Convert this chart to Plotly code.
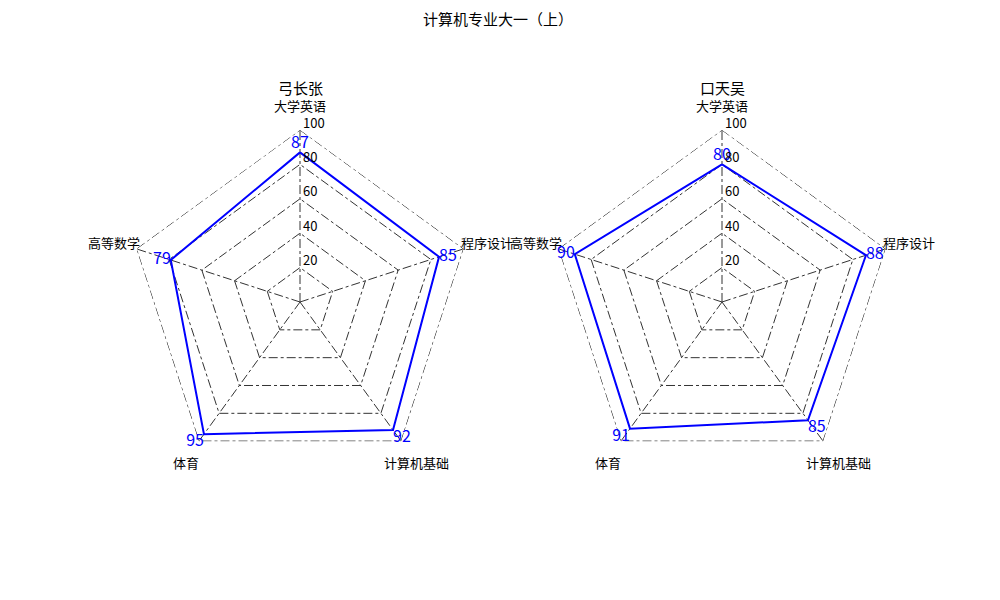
import plotly.graph_objects as go

title = "计算机专业大一（上）"
categories = ["大学英语", "程序设计", "计算机基础", "体育", "高等数学"]
names = ["弓长张", "口天吴"]
scores_zhang = [87, 85, 92, 95, 79]
scores_wu = [80, 88, 85, 91, 90]
radial_ticks = [20, 40, 60, 80, 100]

text_pos = ["top center", "middle right", "bottom right", "bottom left", "middle left"]

FONT = "Noto Sans CJK SC, DejaVu Sans, sans-serif"
W, H = 1000, 600
CENTERS = [(300, 302), (722, 302)]   # pixel centres of the two radar plots
RADIUS = 172                          # pixel radius at r = 100
# offsets (pixels) of the category labels from each radar centre
LABEL_OFF = [(0, -196), (187, -60), (116, 160), (-114, 160), (-186, -60)]


def px(x, y):
    return x / W, 1 - y / H


fig = go.Figure()
annotations = []
for i, (name, vals) in enumerate([(names[0], scores_zhang), (names[1], scores_wu)]):
    pid = "polar" if i == 0 else "polar2"
    # outer dash-dot ring at the top of the scale
    fig.add_trace(go.Scatterpolar(
        r=[radial_ticks[-1]] * (len(categories) + 1),
        theta=categories + categories[:1],
        mode="lines",
        cliponaxis=False,
        line=dict(color="#111111", width=1, dash="dashdot"),
        subplot=pid, showlegend=False, hoverinfo="skip",
    ))
    fig.add_trace(go.Scatterpolar(
        r=vals + vals[:1],
        theta=categories + categories[:1],
        mode="lines+text",
        cliponaxis=False,
        text=[str(v) for v in vals] + [""],
        textposition=text_pos + ["top center"],
        textfont=dict(color="#0000ff", size=16, family=FONT),
        line=dict(color="#0000ff", width=2),
        subplot=pid,
        showlegend=False,
        hoverinfo="skip",
    ))
    cx, cy = CENTERS[i]
    # subplot title
    x, y = px(cx, 87)
    annotations.append(dict(text=name, x=x, y=y, xref="paper", yref="paper", showarrow=False,
                            font=dict(size=15, family=FONT), xanchor="center", yanchor="middle"))
    # category labels
    for cat, (dx, dy) in zip(categories, LABEL_OFF):
        x, y = px(cx + dx, cy + dy)
        annotations.append(dict(text=cat, x=x, y=y, xref="paper", yref="paper", showarrow=False,
                                font=dict(size=13, family=FONT, color="#000000"),
                                xanchor="center", yanchor="middle"))
    # radial tick labels, just right of and above the vertical spoke
    for t in radial_ticks:
        x, y = px(cx + 1, cy - t / 100 * RADIUS - 8)
        annotations.append(dict(text=str(t), x=x, y=y, xref="paper", yref="paper", showarrow=False,
                                font=dict(size=13, family=FONT, color="#000000"),
                                xanchor="left", yanchor="middle"))

axis_common = dict(
    radialaxis=dict(
        range=[0, 100], tickvals=radial_ticks, showline=False, ticks="",
        showticklabels=False, angle=90,
        gridcolor="#333333", griddash="dashdot", gridwidth=0.8,
    ),
    angularaxis=dict(
        direction="clockwise", rotation=90, showline=False, ticks="",
        showticklabels=False,
        gridcolor="#333333", griddash="dashdot", gridwidth=0.8,
    ),
    gridshape="linear",
    bgcolor="white",
)

dom_y = [1 - (302 + RADIUS) / H, 1 - (302 - RADIUS) / H]
fig.update_layout(
    width=W, height=H,
    margin=dict(l=0, r=0, t=0, b=0),
    paper_bgcolor="white",
    plot_bgcolor="white",
    font=dict(family=FONT, color="#000000"),
    title=dict(text=title, x=0.498, y=1 - 20 / H, xanchor="center", yanchor="middle",
               font=dict(size=15, family=FONT)),
    polar=dict(domain=dict(x=[(300 - RADIUS) / W, (300 + RADIUS) / W], y=dom_y), **axis_common),
    polar2=dict(domain=dict(x=[(722 - RADIUS) / W, (722 + RADIUS) / W], y=dom_y), **axis_common),
    annotations=annotations,
)

fig.write_html("out.html")
